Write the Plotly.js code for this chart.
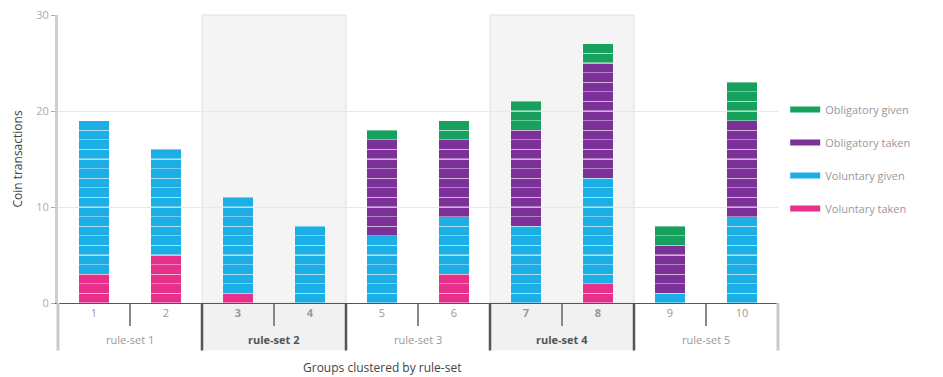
<!DOCTYPE html>
<html>
<head>
<meta charset="utf-8">
<script src="https://cdn.plot.ly/plotly-3.0.1.min.js"></script>
<style>html,body{margin:0;padding:0;background:#fff;}#chart{width:943px;height:377px;}</style>
</head>
<body>
<div id="chart"></div>
<script>
// ---- data ----
const groups = ['1','2','3','4','5','6','7','8','9','10'];
const ruleSets = ['rule-set 1','rule-set 1','rule-set 2','rule-set 2','rule-set 3','rule-set 3','rule-set 4','rule-set 4','rule-set 5','rule-set 5'];
const highlightedRuleSets = ['rule-set 2','rule-set 4'];
const voluntaryTaken  = [3, 5, 1, 0, 0, 3, 0, 2, 0, 0];
const voluntaryGiven  = [16, 11, 10, 8, 7, 6, 8, 11, 1, 9];
const obligatoryTaken = [0, 0, 0, 0, 10, 8, 10, 12, 5, 10];
const obligatoryGiven = [0, 0, 0, 0, 1, 2, 3, 2, 2, 4];
const seriesNames  = ['Voluntary taken','Voluntary given','Obligatory taken','Obligatory given'];
const seriesValues = [voluntaryTaken, voluntaryGiven, obligatoryTaken, obligatoryGiven];
const seriesColors = ['#e6308a','#1bafe6','#7b3197','#17a05e'];

// ---- build ----
const bold = s => '<b>' + s + '</b>';
const isHi = rs => highlightedRuleSets.indexOf(rs) >= 0;
const xcat = groups.map((g, i) => isHi(ruleSets[i]) ? bold(g) : g);
const n = groups.length;

const traces = [];
seriesValues.forEach((vals, s) => {
  const maxV = Math.max.apply(null, vals);
  // each coin transaction is one unit segment of the stacked bar
  for (let k = 0; k < maxV; k++) {
    traces.push({
      type: 'bar', x: xcat,
      y: vals.map(v => v > k ? 1 : null),
      name: seriesNames[s], showlegend: false,
      marker: {color: seriesColors[s], line: {color: 'rgba(255,255,255,0.4)', width: 1.2}},
      hoverinfo: 'skip'
    });
  }
});
// legend entries, top to bottom
for (let s = seriesNames.length - 1; s >= 0; s--) {
  traces.push({
    type: 'scatter', mode: 'lines', x: [null], y: [null],
    name: seriesNames[s], legendgroup: seriesNames[s], showlegend: true,
    line: {color: seriesColors[s], width: 6}
  });
}

const LOW = -0.165;
const shapes = [];
const annotations = [];
let i = 0;
while (i < n) {
  const rs = ruleSets[i];
  let j = i; while (j + 1 < n && ruleSets[j+1] === rs) j++;
  const x0 = i / n, x1 = (j + 1) / n;
  if (isHi(rs)) {
    shapes.push({type:'rect', xref:'paper', yref:'paper', x0:x0, x1:x1, y0:0, y1:1,
      fillcolor:'#f4f4f4', line:{color:'#e0e0e0', width:1}, layer:'below'});
    shapes.push({type:'rect', xref:'paper', yref:'paper', x0:x0, x1:x1, y0:LOW, y1:0,
      fillcolor:'#f1f1f1', line:{width:0}, layer:'below'});
  }
  annotations.push({xref:'paper', yref:'paper', x:(x0 + x1) / 2, xanchor:'center', y:-0.128, yanchor:'middle',
    text: isHi(rs) ? bold(rs) : rs, showarrow:false,
    font:{size:11, color: isHi(rs) ? '#555' : '#999'}});
  i = j + 1;
}
// group dividers
for (let k = 0; k <= n; k++) {
  if (k > 0 && k < n && ruleSets[k] === ruleSets[k-1]) continue;
  const dark = (k < n && isHi(ruleSets[k])) || (k > 0 && isHi(ruleSets[k-1]));
  shapes.push({type:'line', xref:'paper', yref:'paper', x0:k/n, x1:k/n, y0:LOW, y1:0,
    line:{color: dark ? '#555' : '#c8c8c8', width: dark ? 2.5 : 3}, layer:'above'});
}
annotations.push({xref:'paper', yref:'paper', x:0.45, xanchor:'center', y:-0.223, yanchor:'middle',
  text:'Groups clustered by rule-set', showarrow:false, font:{size:12, color:'#444'}});

const layout = {
  width: 943, height: 377,
  margin: {l: 58, r: 165, t: 15, b: 74},
  paper_bgcolor: '#ffffff',
  plot_bgcolor: 'rgba(0,0,0,0)',
  font: {family: 'Open Sans, sans-serif', size: 11, color: '#999'},
  barmode: 'stack',
  bargap: 0.57,
  showlegend: true,
  legend: {x: 1.01, xanchor: 'left', y: 0.5, yanchor: 'middle', traceorder: 'grouped',
    tracegroupgap: 14, font: {size: 11, color: '#999'}},
  xaxis: {
    type: 'category',
    showline: true, linecolor: '#555', linewidth: 1,
    ticks: 'outside', tickson: 'boundaries', ticklen: 22, tickwidth: 2, tickcolor: '#888',
    tickfont: {size: 11, color: '#999'},
    showgrid: false, fixedrange: true
  },
  yaxis: {
    range: [0, 30], tickvals: [0, 10, 20, 30],
    showline: true, linecolor: '#cfcfcf', linewidth: 3,
    ticks: 'outside', ticklen: 4, tickcolor: '#aaa', tickwidth: 1,
    showgrid: true, gridcolor: '#e8e8e8', gridwidth: 1,
    zeroline: false,
    tickfont: {size: 11, color: '#aaa'},
    title: {text: 'Coin transactions', font: {size: 12, color: '#444'}, standoff: 12}
  },
  shapes: shapes,
  annotations: annotations
};

Plotly.newPlot('chart', traces, layout, {displayModeBar: false, staticPlot: true});
</script>
</body>
</html>
